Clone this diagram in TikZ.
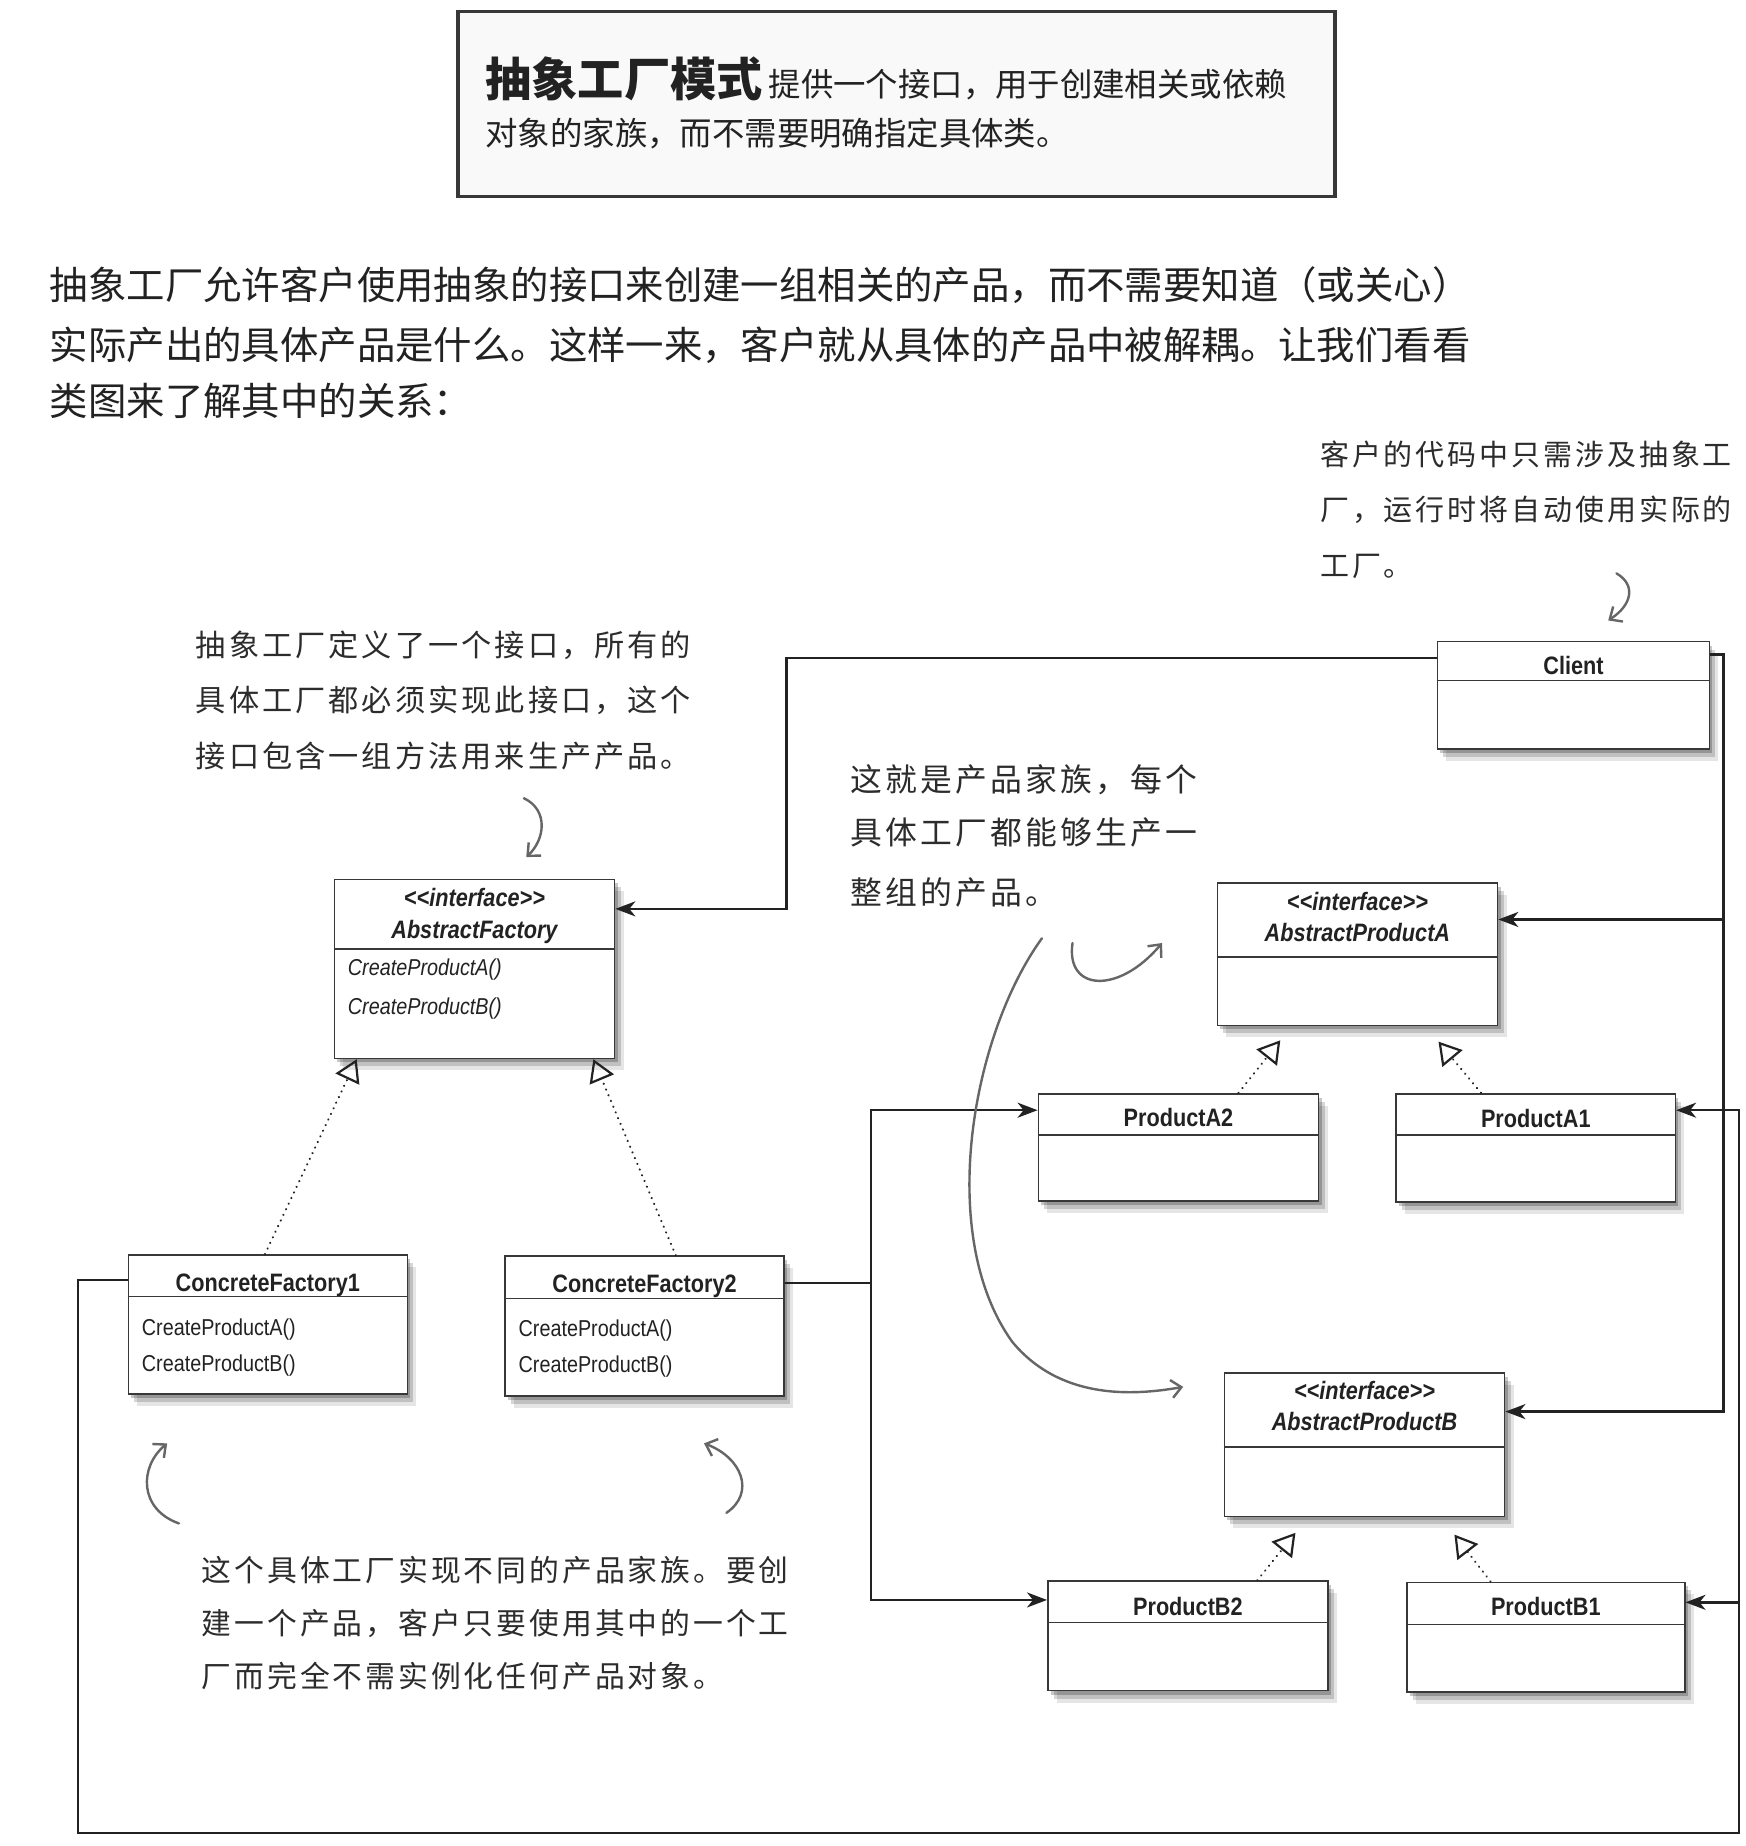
\documentclass[tikz,border=0pt]{standalone}
\usepackage{fontspec}
\setmainfont{Liberation Sans}
\newfontfamily\cjk{Noto Sans CJK SC}
\newfontfamily\hand{Noto Sans CJK SC}[LetterSpace=10]
\newfontfamily\uml{Liberation Sans}[FakeStretch=0.86]
\usetikzlibrary{arrows.meta,shadows,fit}
\definecolor{ink}{HTML}{222222}
\definecolor{pen}{HTML}{2C2C2C}
\definecolor{sketch}{HTML}{666666}
\begin{document}
\begin{tikzpicture}[x=0.5887pt,y=-0.5887pt,
  softshadow/.style={drop shadow={shadow xshift=1.5pt,shadow yshift=-2pt,opacity=.22,fill=black},
                     drop shadow={shadow xshift=3pt,shadow yshift=-4pt,opacity=.16,fill=black},
                     drop shadow={shadow xshift=4.5pt,shadow yshift=-6pt,opacity=.10,fill=black}},
  umlbox/.style={draw=ink!90, line width=0.8pt, fill=white, inner sep=0pt, softshadow},
  divider/.style={draw=ink!90, line width=0.7pt},
  nm/.style={font=\uml\bfseries\fontsize{12.6pt}{14pt}\selectfont, text=ink, inner sep=0pt, anchor=base},
  nmi/.style={nm, font=\uml\bfseries\itshape\fontsize{12.6pt}{14pt}\selectfont},
  meth/.style={font=\uml\fontsize{11.5pt}{13pt}\selectfont, text=ink, inner sep=0pt, anchor=base west, xshift=7pt},
  methi/.style={meth, font=\uml\itshape\fontsize{11.5pt}{13pt}\selectfont},
  assoc/.style={draw=ink, line width=1.2pt, -{Stealth[length=10pt,width=7.5pt,inset=3pt]}},
  plainline/.style={draw=ink, line width=1.2pt},
  real/.style={draw=ink, line width=1.1pt, dash pattern=on 0.1pt off 3pt, line cap=round, -{Triangle[open,length=11pt,width=13pt]}},
  sk/.style={draw=sketch, line width=1.2pt, line cap=round, -{Straight Barb[length=5pt,width=9pt]}},
  para/.style={font=\cjk\fontsize{19.2pt}{23pt}\selectfont, text=ink, inner sep=0pt, anchor=base west},
  note/.style={text=pen, inner sep=0pt, anchor=base west},
]
\fill[white] (0,0) rectangle (1483,1568);
\useasboundingbox (0,0) rectangle (1483,1568);

% definition box
\node[draw=ink!90, line width=1.6pt, fill=gray!5, inner sep=0pt, fit={(389,10) (1134,167)}] (defbox) {};
\node[note, text=ink] (def1) at (412,82) {\cjk\bfseries\fontsize{23.1pt}{26pt}\selectfont 抽象工厂模式\hspace{3pt}\mdseries\fontsize{16.2pt}{20pt}\selectfont 提供一个接口，用于创建相关或依赖};
\node[note, text=ink] (def2) at (412,124) {\cjk\fontsize{16.2pt}{20pt}\selectfont 对象的家族，而不需要明确指定具体类。};

% paragraph
\node[para] (p1) at (42,254) {抽象工厂允许客户使用抽象的接口来创建一组相关的产品，而不需要知道（或关心）};
\node[para] (p2) at (42,305) {实际产出的具体产品是什么。这样一来，客户就从具体的产品中被解耦。让我们看看};
\node[para] (p3) at (42,353) {类图来了解其中的关系：};

% handwritten notes
\node[note, font=\hand\fontsize{14.5pt}{16pt}\selectfont] (cn1) at (1121,395) {客户的代码中只需涉及抽象工};
\node[note, font=\hand\fontsize{14.5pt}{16pt}\selectfont] (cn2) at (1121,442) {厂，运行时将自动使用实际的};
\node[note, font=\hand\fontsize{14.5pt}{16pt}\selectfont] (cn3) at (1121,490) {工厂。};

\node[note, font=\hand\fontsize{15.1pt}{16pt}\selectfont] (an1) at (166,558) {抽象工厂定义了一个接口，所有的};
\node[note, font=\hand\fontsize{15.1pt}{16pt}\selectfont] (an2) at (166,604) {具体工厂都必须实现此接口，这个};
\node[note, font=\hand\fontsize{15.1pt}{16pt}\selectfont] (an3) at (166,652) {接口包含一组方法用来生产产品。};

\node[note, font=\hand\fontsize{15.9pt}{17pt}\selectfont] (mn1) at (722,672) {这就是产品家族，每个};
\node[note, font=\hand\fontsize{15.9pt}{17pt}\selectfont] (mn2) at (722,717) {具体工厂都能够生产一};
\node[note, font=\hand\fontsize{15.9pt}{17pt}\selectfont] (mn3) at (722,768) {整组的产品。};

\node[note, font=\hand\fontsize{14.9pt}{16pt}\selectfont] (bn1) at (171,1343) {这个具体工厂实现不同的产品家族。要创};
\node[note, font=\hand\fontsize{14.9pt}{16pt}\selectfont] (bn2) at (171,1388) {建一个产品，客户只要使用其中的一个工};
\node[note, font=\hand\fontsize{14.9pt}{16pt}\selectfont] (bn3) at (171,1433) {厂而完全不需实例化任何产品对象。};

% UML boxes
\node[umlbox, fit={(1221,545) (1452,636)}] (client) {};
\node[nm] (client-n) at (client.north |- 0,573) {Client};
\draw[divider] (client.west |- 0,578) -- (client.east |- 0,578);

\node[umlbox, fit={(284,747) (522,899)}] (af) {};
\node[nmi] (af-s) at (af.north |- 0,770) {<\kern0pt<interface>\kern0pt>};
\node[nmi] (af-n) at (af.north |- 0,797) {AbstractFactory};
\draw[divider] (af.west |- 0,806) -- (af.east |- 0,806);
\node[methi] (af-m1) at (af.west |- 0,829) {CreateProductA()};
\node[methi] (af-m2) at (af.west |- 0,862) {CreateProductB()};

\node[umlbox, fit={(109,1066) (346,1184)}] (cf1) {};
\node[nm] (cf1-n) at (cf1.north |- 0,1097) {ConcreteFactory1};
\draw[divider] (cf1.west |- 0,1101) -- (cf1.east |- 0,1101);
\node[meth] (cf1-m1) at (cf1.west |- 0,1134) {CreateProductA()};
\node[meth] (cf1-m2) at (cf1.west |- 0,1165) {CreateProductB()};

\node[umlbox, fit={(429,1067) (666,1186)}] (cf2) {};
\node[nm] (cf2-n) at (cf2.north |- 0,1098) {ConcreteFactory2};
\draw[divider] (cf2.west |- 0,1103) -- (cf2.east |- 0,1103);
\node[meth] (cf2-m1) at (cf2.west |- 0,1135) {CreateProductA()};
\node[meth] (cf2-m2) at (cf2.west |- 0,1166) {CreateProductB()};

\node[umlbox, fit={(1034,750) (1272,871)}] (apa) {};
\node[nmi] (apa-s) at (apa.north |- 0,773) {<\kern0pt<interface>\kern0pt>};
\node[nmi] (apa-n) at (apa.north |- 0,800) {AbstractProductA};
\draw[divider] (apa.west |- 0,813) -- (apa.east |- 0,813);

\node[umlbox, fit={(882,929) (1120,1020)}] (pa2) {};
\node[nm] (pa2-n) at (pa2.north |- 0,957) {ProductA2};
\draw[divider] (pa2.west |- 0,964) -- (pa2.east |- 0,964);

\node[umlbox, fit={(1186,929) (1423,1021)}] (pa1) {};
\node[nm] (pa1-n) at (pa1.north |- 0,958) {ProductA1};
\draw[divider] (pa1.west |- 0,964) -- (pa1.east |- 0,964);

\node[umlbox, fit={(1040,1166) (1278,1288)}] (apb) {};
\node[nmi] (apb-s) at (apb.north |- 0,1189) {<\kern0pt<interface>\kern0pt>};
\node[nmi] (apb-n) at (apb.north |- 0,1215) {AbstractProductB};
\draw[divider] (apb.west |- 0,1229) -- (apb.east |- 0,1229);

\node[umlbox, fit={(890,1343) (1128,1436)}] (pb2) {};
\node[nm] (pb2-n) at (pb2.north |- 0,1372) {ProductB2};
\draw[divider] (pb2.west |- 0,1378) -- (pb2.east |- 0,1378);

\node[umlbox, fit={(1195,1344) (1431,1437)}] (pb1) {};
\node[nm] (pb1-n) at (pb1.north |- 0,1372) {ProductB1};
\draw[divider] (pb1.west |- 0,1380) -- (pb1.east |- 0,1380);

% associations
\draw[assoc] (client.west |- 0,559) -| (668,772) -- (af.east |- 0,772);
\coordinate (rA) at (1464,781);
\draw[assoc] (client.east |- 0,556) -| (1464,1199) -- (apb.east |- 0,1199);
\draw[assoc] (rA) -- (apa.east |- 0,781);

\draw[assoc] (cf1.west |- 0,1087) -| (66,1557) -| (1477,943) -- (pa1.east |- 0,943);
\coordinate (rB) at (1477,1361);
\draw[assoc] (rB) -- (pb1.east |- 0,1361);

\coordinate (jC) at (740,1090);
\draw[plainline] (cf2.east |- 0,1090) -- (jC);
\draw[assoc] (jC) |- (pa2.west |- 0,943);
\draw[assoc] (jC) |- (pb2.west |- 0,1359);

% realizations
\draw[real] (cf1.north -| 225,0) -- (af.south -| 303,0);
\draw[real] (cf2.north -| 574,0) -- (af.south -| 504,0);
\draw[real, shorten >=9pt] (pa2.north -| 1052,0) -- (apa.south -| 1097,0);
\draw[real, shorten >=10pt] (pa1.north -| 1258,0) -- (apa.south -| 1211,0);
\draw[real, shorten >=10pt] (pb2.north -| 1068,0) -- (apb.south -| 1111,0);
\draw[real, shorten >=11pt] (pb1.north -| 1266,0) -- (apb.south -| 1224,0);

% sketch arrows
\draw[sk] (445,678) .. controls (466,688) and (463,713) .. (447,728);
\draw[sk] (1373,487) .. controls (1390,497) and (1386,514) .. (1366,527);
\draw[sk] (885,797) .. controls (825,880) and (795,1050) .. (860,1140) .. controls (900,1188) and (960,1186) .. (1005,1178);
\draw[sk] (911,801) .. controls (905,842) and (950,845) .. (987,801);
\draw[sk] (152,1294) .. controls (118,1282) and (118,1246) .. (142,1226);
\draw[sk] (617,1285) .. controls (642,1268) and (630,1238) .. (598,1226);
\end{tikzpicture}
\end{document}
